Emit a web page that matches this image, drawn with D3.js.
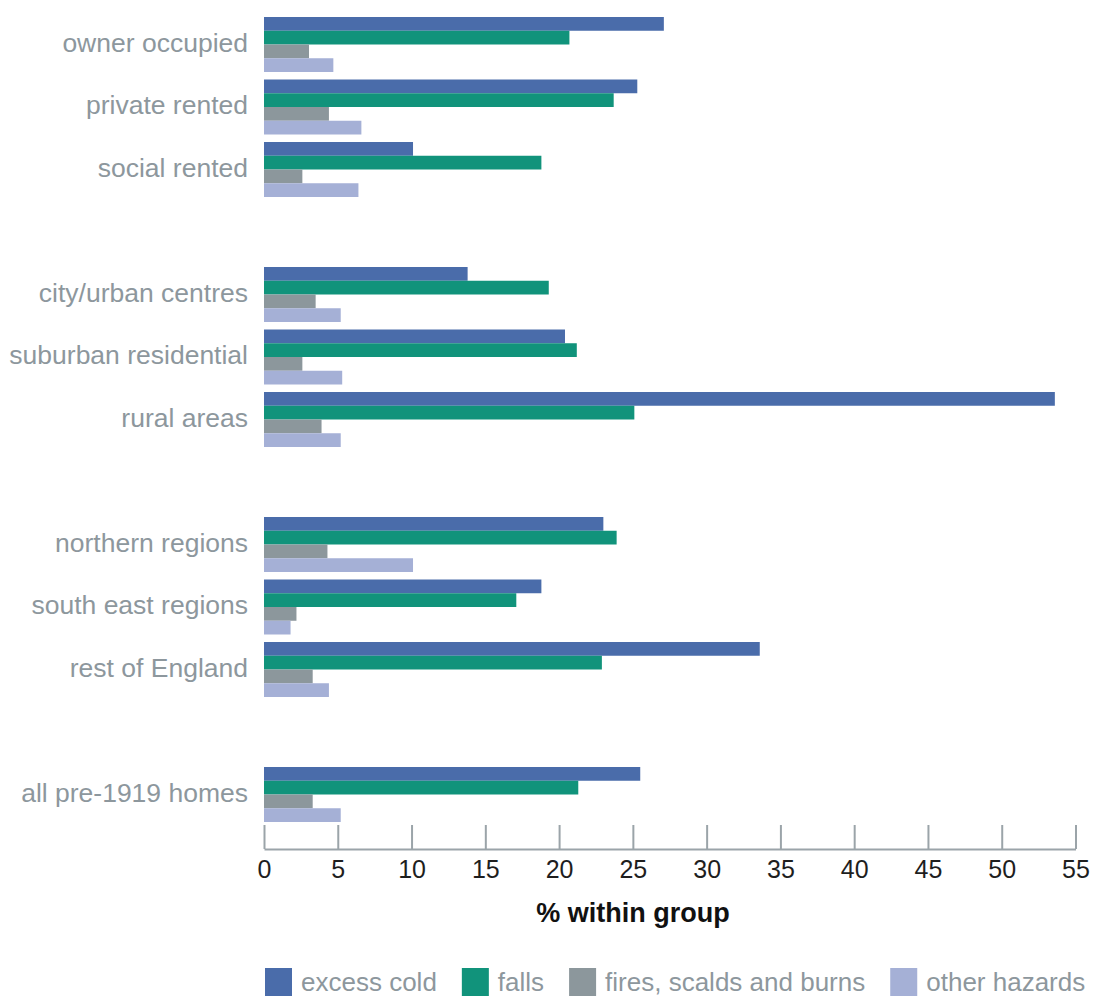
<!DOCTYPE html>
<html>
<head>
<meta charset="utf-8">
<script src="https://cdn.jsdelivr.net/npm/d3@7"></script>
<style>
  body { margin: 0; background: #fff; }
  svg { display: block; }
  text { font-family: "Liberation Sans", Arial, sans-serif; }
</style>
</head>
<body>
<svg id="chart" width="1094" height="997"></svg>
<script>
// ---- data ----
const categories = [
  "owner occupied", "private rented", "social rented", "",
  "city/urban centres", "suburban residential", "rural areas", " ",
  "northern regions", "south east regions", "rest of England", "  ",
  "all pre-1919 homes"
];
const seriesNames = ["excess cold", "falls", "fires, scalds and burns", "other hazards"];
const excessCold = [27.1, 25.3, 10.1, null, 13.8, 20.4, 53.6, null, 23.0, 18.8, 33.6, null, 25.5];
const falls      = [20.7, 23.7, 18.8, null, 19.3, 21.2, 25.1, null, 23.9, 17.1, 22.9, null, 21.3];
const fires      = [3.05, 4.4, 2.6, null, 3.5, 2.6, 3.9, null, 4.3, 2.2, 3.3, null, 3.3];
const otherHaz   = [4.7, 6.6, 6.4, null, 5.2, 5.3, 5.2, null, 10.1, 1.8, 4.4, null, 5.2];
const xTicks = [0, 5, 10, 15, 20, 25, 30, 35, 40, 45, 50, 55];
const colors = ["#4a6caa", "#11937b", "#8c979c", "#a5b0d6"];

const seriesValues = [excessCold, falls, fires, otherHaz];

const svg = d3.select("#chart");

const x = d3.scaleLinear().domain([0, 55]).range([264, 1075.5]);
const y = d3.scaleBand().domain(categories).range([17, 822]).paddingInner(0.12).paddingOuter(0);
const ySub = d3.scaleBand().domain(seriesNames).range([0, y.bandwidth()]);

// bars
const rows = svg.append("g").selectAll("g")
  .data(categories.map((c, i) => ({ c, i })).filter(d => d.c.trim() !== ""))
  .join("g")
  .attr("transform", d => `translate(0,${y(d.c)})`);

rows.selectAll("rect")
  .data(d => seriesNames.map((s, k) => ({ s, k, v: seriesValues[k][d.i] })))
  .join("rect")
  .attr("x", x(0))
  .attr("y", d => ySub(d.s))
  .attr("width", d => x(d.v) - x(0))
  .attr("height", ySub.bandwidth())
  .attr("fill", d => colors[d.k]);

// category labels
rows.append("text")
  .attr("x", 248)
  .attr("y", y.bandwidth() / 2 - 2)
  .attr("dy", "0.35em")
  .attr("text-anchor", "end")
  .attr("fill", "#8d979d")
  .style("font-size", "26.5px")
  .text(d => d.c);

// x axis
const axisY = 849;
const axis = d3.axisBottom(x).tickValues(xTicks).tickSizeInner(-24).tickSizeOuter(0).tickPadding(11);
const gx = svg.append("g").attr("transform", `translate(0,${axisY})`).call(axis);
gx.select(".domain").attr("stroke", "#9ba4a9").attr("stroke-width", 2);
gx.selectAll(".tick line").attr("stroke", "#9ba4a9").attr("stroke-width", 2);
gx.selectAll(".tick text")
  .attr("fill", "#1e1e1e")
  .style("font-size", "25px")
  .style("font-family", '"Liberation Sans", Arial, sans-serif');

// axis title
svg.append("text")
  .attr("x", 633)
  .attr("y", 922)
  .attr("text-anchor", "middle")
  .attr("fill", "#111")
  .style("font-size", "27px")
  .style("font-weight", "bold")
  .text("% within group");

// legend
const lg = svg.append("g");
let lx = 265;
seriesNames.forEach((s, k) => {
  lg.append("rect").attr("x", lx).attr("y", 968).attr("width", 27).attr("height", 28).attr("fill", colors[k]);
  const t = lg.append("text")
    .attr("x", lx + 36)
    .attr("y", 982)
    .attr("dy", "0.35em")
    .attr("fill", "#8d979d")
    .style("font-size", "26px")
    .text(s);
  lx = lx + 36 + t.node().getComputedTextLength() + 25;
});
</script>
</body>
</html>
